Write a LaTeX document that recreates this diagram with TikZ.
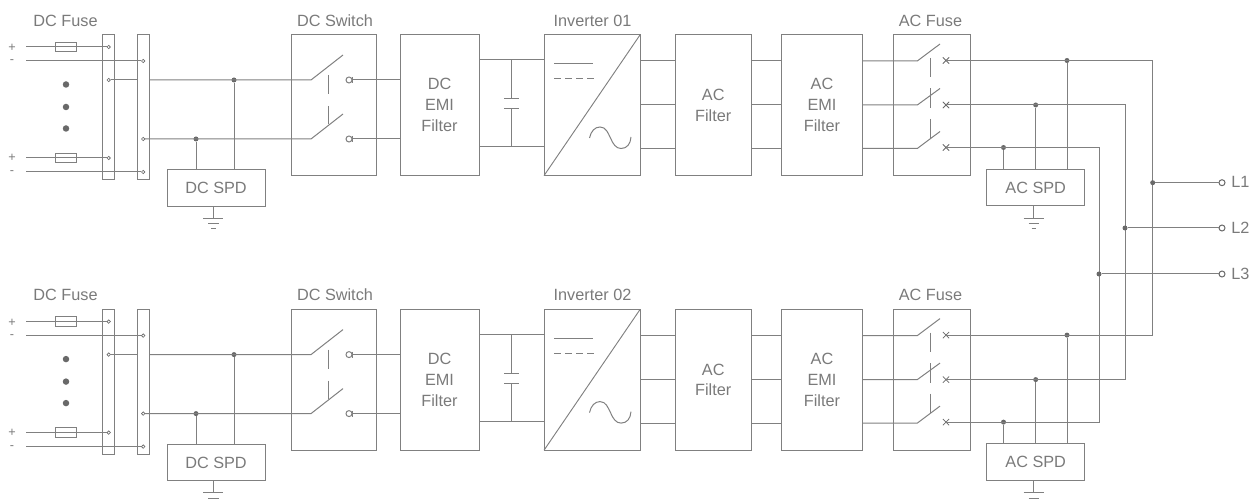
\documentclass[tikz,border=0pt]{standalone}
\usepackage{fontspec}
\setmainfont{Liberation Sans}
\usepackage{xcolor}
\usepackage{tikz}
\usetikzlibrary{shapes.misc}
\definecolor{wiregray}{RGB}{128,128,128}
\definecolor{labelgray}{RGB}{122,122,122}
\definecolor{dotgray}{RGB}{105,105,105}
\newcommand{\pxu}{0.75pt}
\tikzset{
    wire/.style={draw=wiregray, line width=0.75pt},
    blockbox/.style={wire, rectangle, inner sep=0pt, outer sep=0pt, align=center, text=labelgray, font=\fontsize{12.2}{15.7}\selectfont},
    caption/.style={text=labelgray, inner sep=0pt, font=\fontsize{12.2}{14}\selectfont},
    polarity/.style={text=labelgray, inner sep=0pt, font=\fontsize{9.5}{9.5}\selectfont},
    junction/.style={circle, fill=dotgray, inner sep=0pt, minimum size=5*\pxu},
    terminal/.style={circle, draw=dotgray, line width=0.5pt, fill=white, inner sep=0pt, minimum size=3.4*\pxu},
    contact/.style={circle, wire, inner sep=0pt, minimum size=6*\pxu},
    crossmark/.style={cross out, draw=dotgray, line width=0.6pt, inner sep=0pt, minimum size=5.5*\pxu}
}
% one inverter branch, #1 = name prefix, #2 = title
\newcommand{\inverterrow}[2]{
    % rows of wires
    \coordinate (#1dca) at (0,80);
    \coordinate (#1dcb) at (0,139);
    \coordinate (#1capa) at (0,60);
    \coordinate (#1capb) at (0,147);
    \coordinate (#1aca) at (0,61);
    \coordinate (#1acb) at (0,105);
    \coordinate (#1acc) at (0,148.5);

    % titles
    \node[caption] (#1tfuse) at (65.5,20.5) {DC Fuse};
    \node[caption] (#1tswitch) at (335,20.5) {DC Switch};
    \node[caption] (#1tinv) at (592.5,20.5) {#2};
    \node[caption] (#1tacfuse) at (930.5,20.5) {AC Fuse};

    % blocks
    \node[blockbox, minimum width=12*\pxu, minimum height=145*\pxu] (#1barp) at (108.7,107.5) {};
    \node[blockbox, minimum width=12*\pxu, minimum height=145*\pxu] (#1barn) at (143.2,107.5) {};
    \node[blockbox, minimum width=98*\pxu, minimum height=36.5*\pxu] (#1dcspd) at (216,188) {DC SPD};
    \node[blockbox, minimum width=85*\pxu, minimum height=140.7*\pxu] (#1dcsw) at (334.2,105.3) {};
    \node[blockbox, minimum width=79*\pxu, minimum height=140.7*\pxu] (#1dcemi) at (439.5,105.3) {DC\\EMI\\Filter};
    \node[blockbox, minimum width=96*\pxu, minimum height=140.7*\pxu] (#1inv) at (592,105.3) {};
    \node[blockbox, minimum width=76.3*\pxu, minimum height=140.7*\pxu] (#1acf) at (713.2,105.3) {AC\\Filter};
    \node[blockbox, minimum width=81.4*\pxu, minimum height=140.7*\pxu] (#1acemi) at (822,105.3) {AC\\EMI\\Filter};
    \node[blockbox, minimum width=76.5*\pxu, minimum height=140.7*\pxu] (#1acsw) at (932,105.3) {};
    \node[blockbox, minimum width=98*\pxu, minimum height=36.5*\pxu] (#1acspd) at (1035.7,187.5) {AC SPD};

    % string inputs
    \node[polarity] (#1sgna) at (12,48) {+};
    \node[polarity] (#1sgnb) at (12,62) {-};
    \node[polarity] (#1sgnc) at (12,158) {+};
    \node[polarity] (#1sgnd) at (12,173) {-};
    \node[blockbox, minimum width=21*\pxu, minimum height=9.7*\pxu] (#1fusea) at (66,47) {};
    \node[blockbox, minimum width=21*\pxu, minimum height=9.7*\pxu] (#1fuseb) at (66,158) {};
    \coordinate (#1ina) at (26,47);
    \coordinate (#1inb) at (26,61);
    \coordinate (#1inc) at (26,158);
    \coordinate (#1ind) at (26,172);
    \node[terminal] (#1ta) at (108.7,47) {};
    \node[terminal] (#1tb) at (143.2,61) {};
    \node[terminal] (#1tc) at (108.7,80) {};
    \node[terminal] (#1td) at (143.2,139) {};
    \node[terminal] (#1te) at (108.7,158) {};
    \node[terminal] (#1tf) at (143.2,172) {};
    \draw[wire] (#1ina) -- (#1ta);
    \draw[wire] (#1inb) -- (#1tb);
    \draw[wire] (#1inc) -- (#1te);
    \draw[wire] (#1ind) -- (#1tf);
    \node[circle, fill=dotgray, inner sep=0pt, minimum size=6.5*\pxu] (#1vdota) at (66,84.5) {};
    \node[circle, fill=dotgray, inner sep=0pt, minimum size=6.5*\pxu] (#1vdotb) at (66,107) {};
    \node[circle, fill=dotgray, inner sep=0pt, minimum size=6.5*\pxu] (#1vdotc) at (66,128.5) {};

    % dc side
    \node[junction] (#1ja) at (234,80) {};
    \node[junction] (#1jb) at (196,139) {};
    \coordinate (#1hingea) at (311,80);
    \coordinate (#1hingeb) at (311,139);
    \coordinate (#1bladea) at (343,55);
    \coordinate (#1bladeb) at (343,114);
    \node[contact] (#1cona) at (349,80) {};
    \node[contact] (#1conb) at (349,139) {};
    \draw[wire] (#1tc) -- (#1barn.west |- #1dca);
    \draw[wire] (#1barn.east |- #1dca) -- (#1hingea) -- (#1bladea);
    \draw[wire] (#1td) -- (#1hingeb) -- (#1bladeb);
    \draw[wire] (#1ja) -- (#1ja |- #1dcspd.north);
    \draw[wire] (#1jb) -- (#1jb |- #1dcspd.north);
    \draw[wire] (#1cona.east) -- (#1dcemi.west |- #1dca);
    \draw[wire] (#1conb.east) -- (#1dcemi.west |- #1dcb);
    \draw[wire] ([yshift=3*\pxu]#1cona.east) -- ([yshift=-3*\pxu]#1cona.east);
    \draw[wire] ([yshift=3*\pxu]#1conb.east) -- ([yshift=-3*\pxu]#1conb.east);
    \draw[wire] (328,75) -- (328,94);
    \draw[wire] (328,106) -- (328,124);

    % capacitor
    \coordinate (#1capu) at (511,98.7);
    \coordinate (#1capl) at (511,108.5);
    \draw[wire] (#1dcemi.east |- #1capa) -- (#1inv.west |- #1capa);
    \draw[wire] (#1dcemi.east |- #1capb) -- (#1inv.west |- #1capb);
    \draw[wire] (#1capu |- #1capa) -- (#1capu);
    \draw[wire] (#1capl |- #1capb) -- (#1capl);
    \draw[wire] (504,98.7) -- (519,98.7);
    \draw[wire] (504,108.5) -- (519,108.5);

    % inverter symbols
    \draw[wiregray, line width=0.7pt] (#1inv.south west) -- (#1inv.north east);
    \draw[wire] (554,63.5) -- (592.5,63.5);
    \draw[wire, dash pattern=on 6.5*\pxu off 4.5*\pxu] (554,78.7) -- (594,78.7);
    \draw[wire] (589.5,138) .. controls (591,131) and (595,127) .. (600,127) .. controls (606,127) and (608,133) .. (610.5,138) .. controls (613,144) and (616,148.5) .. (621,148.5) .. controls (627,148.5) and (630.5,144) .. (631,137);

    % ac side
    \draw[wire] (#1inv.east |- #1aca) -- (#1acf.west |- #1aca);
    \draw[wire] (#1inv.east |- #1acb) -- (#1acf.west |- #1acb);
    \draw[wire] (#1inv.east |- #1acc) -- (#1acf.west |- #1acc);
    \draw[wire] (#1acf.east |- #1aca) -- (#1acemi.west |- #1aca);
    \draw[wire] (#1acf.east |- #1acb) -- (#1acemi.west |- #1acb);
    \draw[wire] (#1acf.east |- #1acc) -- (#1acemi.west |- #1acc);
    \coordinate (#1hingec) at (917.3,61);
    \coordinate (#1hinged) at (917.3,105);
    \coordinate (#1hingee) at (917.3,148.5);
    \coordinate (#1bladec) at (940,44);
    \coordinate (#1bladed) at (940,88.5);
    \coordinate (#1bladee) at (940,131.5);
    \draw[wire] (#1acemi.east |- #1aca) -- (#1hingec) -- (#1bladec);
    \draw[wire] (#1acemi.east |- #1acb) -- (#1hinged) -- (#1bladed);
    \draw[wire] (#1acemi.east |- #1acc) -- (#1hingee) -- (#1bladee);
    \draw[wire] (930,58) -- (930,77);
    \draw[wire] (930,88.5) -- (930,108);
    \draw[wire] (930,119) -- (930,138);
    \node[crossmark] (#1xa) at (946,60.5) {};
    \node[crossmark] (#1xb) at (946,105) {};
    \node[crossmark] (#1xc) at (946,147.5) {};
    \node[junction] (#1jc) at (1067,60.5) {};
    \node[junction] (#1jd) at (1035.7,105) {};
    \node[junction] (#1je) at (1003.5,147.5) {};
    \draw[wire] (#1jc) -- (#1jc |- #1acspd.north);
    \draw[wire] (#1jd) -- (#1jd |- #1acspd.north);
    \draw[wire] (#1je) -- (#1je |- #1acspd.north);

    % earth
    \coordinate (#1gnda) at (213.3,218.3);
    \coordinate (#1gndb) at (1033.7,218.3);
    \draw[wire] (#1gnda |- #1dcspd.south) -- (#1gnda);
    \draw[wire] (#1gndb |- #1acspd.south) -- (#1gndb);
    \draw[wire] ([xshift=-10*\pxu]#1gnda) -- ([xshift=10*\pxu]#1gnda);
    \draw[wire] ([xshift=-10*\pxu]#1gndb) -- ([xshift=10*\pxu]#1gndb);
    \draw[wire] (208,223.5) -- (218.5,223.5);
    \draw[wire] (1028.5,223.5) -- (1039,223.5);
}

\begin{document}
\begin{tikzpicture}[x=0.75pt, y=-0.75pt]
    \useasboundingbox (0,0) rectangle (1254,499);

    \begin{scope}[shift={(0,0)}]
        \inverterrow{u}{Inverter 01}
        % last bar of the earth symbols
        \draw[wire] (211,228.3) -- (215.5,228.3);
        \draw[wire] (1031.5,228.3) -- (1036,228.3);
    \end{scope}
    \begin{scope}[shift={(0,274.6)}]
        \inverterrow{l}{Inverter 02}
    \end{scope}

    % output bus
    \coordinate (busa) at (1152.7,0);
    \coordinate (busb) at (1125,0);
    \coordinate (busc) at (1099,0);
    \draw[wire] (uxa.center) -- (busa |- uxa) -- (busa |- lxa) -- (lxa.center);
    \draw[wire] (uxb.center) -- (busb |- uxb) -- (busb |- lxb) -- (lxb.center);
    \draw[wire] (uxc.center) -- (busc |- uxc) -- (busc |- lxc) -- (lxc.center);

    \node[junction] (joina) at (1152.7,182.7) {};
    \node[junction] (joinb) at (1125,228) {};
    \node[junction] (joinc) at (1099,274) {};
    \node[contact, draw=dotgray] (grida) at (1222,182.7) {};
    \node[contact, draw=dotgray] (gridb) at (1222,228) {};
    \node[contact, draw=dotgray] (gridc) at (1222,274) {};
    \draw[wire] (joina) -- (grida);
    \draw[wire] (joinb) -- (gridb);
    \draw[wire] (joinc) -- (gridc);
    \node[caption, anchor=west] (labela) at (1231,181.7) {L1};
    \node[caption, anchor=west] (labelb) at (1231,227.5) {L2};
    \node[caption, anchor=west] (labelc) at (1231,273.5) {L3};
\end{tikzpicture}
\end{document}
